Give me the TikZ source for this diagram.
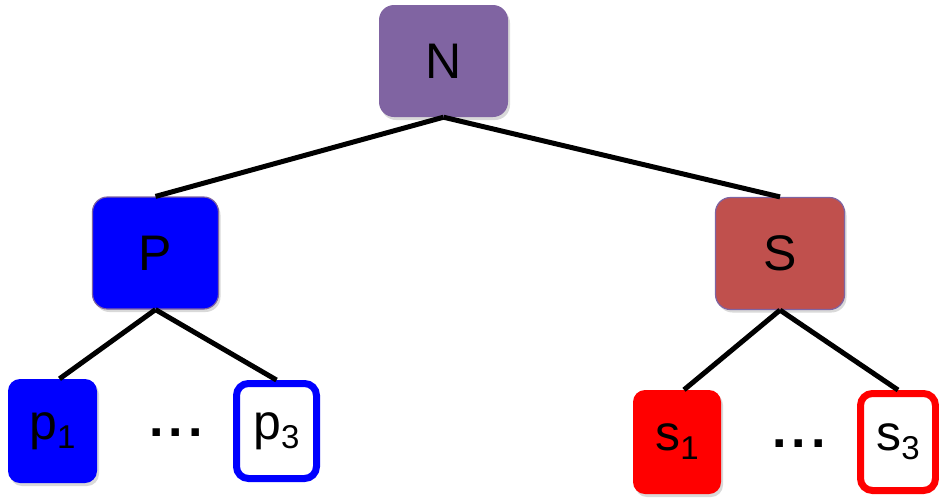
\documentclass[tikz,border=0pt]{standalone}
\usepackage{fontspec}
\setmainfont{Liberation Sans}
\usetikzlibrary{shadows}

\definecolor{rootpurple}{HTML}{8064A2}
\definecolor{srcred}{HTML}{C0504D}
\definecolor{rimpurple}{HTML}{7F64A2}

% lowered index digit
\newcommand{\idx}[1]{\raisebox{-9pt}{\fontsize{33}{33}\selectfont #1}}

\begin{document}
\begin{tikzpicture}[
  x=1pt, y=-1pt,
  font=\fontsize{50}{60}\selectfont,
  box/.style={rounded corners=15pt, inner sep=0pt,
    drop shadow={opacity=0.3, shadow xshift=2pt, shadow yshift=-3pt}},
  inner/.style={box, minimum width=128pt, minimum height=112pt},
  leaf/.style={box, rounded corners=12pt},
  edge/.style={line width=5pt},
  dots/.style={font=\fontsize{52}{60}\selectfont\bfseries, inner sep=0pt}
]
  \useasboundingbox (0,0) rectangle (939,499);

  % root and the two inner nodes
  \node[inner, fill=rootpurple, minimum width=129pt] (N) at (443.5,61) {N};
  \node[inner, fill=blue, draw=rimpurple, line width=1.2pt, minimum width=126pt] (P) at (155.5,253) {P};
  \node[inner, fill=srcred, draw=rimpurple, line width=1.2pt, minimum width=129pt] (S) at (780,253.5) {S};

  % leaves
  \node[leaf, fill=blue, minimum width=89pt, minimum height=104pt] (p1) at (52.5,431) {p\idx{1}};
  \node[leaf, fill=white, draw=blue, line width=7pt, minimum width=80pt, minimum height=95pt] (p3) at (276.5,431) {p\idx{3}};
  \node[leaf, fill=red, minimum width=88pt, minimum height=104pt] (s1) at (677,442) {s\idx{1}};
  \node[leaf, fill=white, draw=red, line width=7pt, minimum width=75pt, minimum height=97pt] (s3) at (898,442) {s\idx{3}};

  \node[dots] (pdots) at (176,433) {.\kern5pt.\kern5pt.};
  \node[dots] (sdots) at (799,444) {.\kern5pt.\kern5pt.};

  \draw[edge] (N.south) -- (P.north);
  \draw[edge] (N.south) -- (S.north);
  \draw[edge] (P.south) -- ([xshift=7pt]p1.north);
  \draw[edge] (P.south) -- (p3.north);
  \draw[edge] (S.south) -- ([xshift=7pt]s1.north);
  \draw[edge] (S.south) -- (s3.north);
\end{tikzpicture}
\end{document}
